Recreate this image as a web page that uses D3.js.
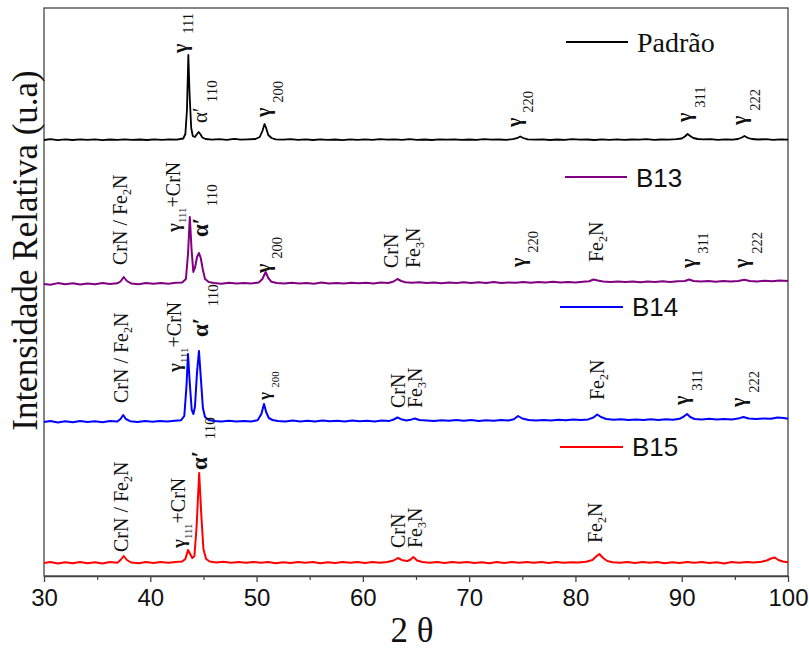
<!DOCTYPE html>
<html><head><meta charset="utf-8">
<script src="https://cdn.jsdelivr.net/npm/d3@7"></script>
<style>body{margin:0;background:#fff} svg{display:block}</style>
</head><body><svg id="c" width="809" height="649"></svg>
<script>
// ---------- DATA ----------
const seriesNames = ["Padrão","B13","B14","B15"];
const seriesColors = ["#000000","#800080","#0000ff","#ff0000"];
const seriesOffsets = [423,279,141,0];   // vertical stacking offsets (intensity units)
const xTicks = [30,40,50,60,70,80,90,100];
const xMinorTicks = [35,45,55,65,75,85,95];

const padrao = [[30,0],[30.6,0.8],[31.3,-0.2],[32,0.6],[32.7,0],[33.4,0.7],[34.1,0.1],[34.8,0.6],[35.5,-0.1],[36.2,0.5],[36.9,0.1],[37.6,0.7],[38.3,0.2],[39,0.5],[39.7,0],[40.4,0.6],[41.1,0.2],[41.8,0.7],[42.5,0.3],[43.1,1.5],[43.3,6],[43.45,30],[43.58,85],[43.7,45],[43.85,12],[44.0,4],[44.2,3],[44.4,6],[44.55,8],[44.7,6],[44.9,2.5],[45.2,1],[45.8,0.4],[46.5,0.8],[47.2,0.2],[47.9,1.2],[48.5,0.4],[49.2,0.7],[49.9,1],[50.3,3],[50.55,9],[50.75,16],[50.9,12],[51.1,5],[51.4,2],[51.8,0.6],[52.5,0.3],[53.2,0.9],[53.9,0.2],[54.6,0.6],[55.3,0],[56,0.7],[56.7,0.2],[57.4,0.5],[58.1,-0.1],[58.8,0.6],[59.5,0.2],[60.2,0.7],[60.9,0.1],[61.6,0.9],[62.3,0.3],[63,0.6],[63.7,0.1],[64.4,0.8],[65.1,0.2],[65.8,0.5],[66.5,0],[67.2,0.6],[67.9,0.3],[68.6,0.7],[69.3,0.1],[70,0.5],[70.7,0.2],[71.4,0.8],[72.1,0.3],[72.8,0.5],[73.5,0.2],[74.1,0.8],[74.5,1.8],[74.8,3.5],[75.1,2],[75.5,0.6],[76.2,0.3],[76.9,0.7],[77.6,0],[78.3,0.5],[79,0.2],[79.7,0.8],[80.4,0.3],[81.1,0.5],[81.8,0],[82.5,0.6],[83.2,0.2],[83.9,0.7],[84.6,0.1],[85.3,0.5],[86,0.3],[86.7,0.8],[87.4,0.2],[88.1,0.5],[88.8,0.4],[89.5,0.9],[90,1.5],[90.3,3.5],[90.55,6],[90.8,4],[91.1,2],[91.5,1],[92,0.6],[92.7,0.9],[93.4,0.2],[94.1,0.7],[94.8,0.4],[95.3,1],[95.65,2.5],[95.9,4],[96.2,2.2],[96.6,1],[97.2,0.5],[97.9,0.8],[98.6,0.2],[99.3,0.6],[100,0.3]];

const b13 = [[30,0],[30.6,-0.8],[31.3,0.9],[32,-0.3],[32.7,0.8],[33.4,-0.5],[34.1,0.6],[34.8,-0.2],[35.5,1],[36.2,0],[36.9,0.7],[37.2,2.5],[37.5,7],[37.8,3],[38.2,0.6],[38.9,-0.2],[39.6,1],[40.3,0.2],[41,0.9],[41.7,0.3],[42.4,1.2],[43,1.5],[43.35,5],[43.55,30],[43.72,67],[43.88,35],[44.05,12],[44.2,16],[44.4,27],[44.58,31],[44.75,26],[44.95,14],[45.15,5],[45.5,2],[46,1],[46.7,0.3],[47.4,1.2],[48.1,0.4],[48.8,1],[49.5,0.5],[50.2,1.5],[50.55,5],[50.85,12],[51.1,6],[51.4,2.2],[51.9,1],[52.6,0.4],[53.3,1.3],[54,0.5],[54.7,1.1],[55.4,0.3],[56.1,1.4],[56.8,0.6],[57.5,1],[58.2,0.4],[58.9,1.3],[59.6,0.7],[60.3,1.2],[61,0.5],[61.7,1.5],[62.4,1],[62.9,2.5],[63.25,5],[63.6,3],[64,1.8],[64.6,1.2],[65.3,1.8],[66,1],[66.7,1.6],[67.4,0.8],[68.1,1.5],[68.8,1],[69.5,1.8],[70.2,0.9],[70.9,1.7],[71.6,1],[72.3,1.9],[73,1.1],[73.7,1.6],[74.4,1.2],[75.1,2],[75.8,1.3],[76.5,2],[77.2,1.4],[77.9,2.2],[78.6,1.5],[79.3,2],[80,1.6],[80.7,2.3],[81.3,2.8],[81.7,4.5],[82.1,3.5],[82.6,2.5],[83.3,2],[84,2.6],[84.7,1.9],[85.4,2.5],[86.1,1.8],[86.8,2.6],[87.5,2],[88.2,2.7],[88.9,2.1],[89.6,2.8],[90.3,3],[90.7,4.5],[91.1,3],[91.8,2.4],[92.5,3],[93.2,2.3],[93.9,2.9],[94.6,2.5],[95.3,3.1],[95.9,4.2],[96.4,3],[97.1,2.6],[97.8,3.2],[98.5,2.7],[99.2,3.5],[100,3]];

const b14 = [[30,0],[30.6,1],[31.3,-0.5],[32,0.8],[32.7,-0.2],[33.4,1],[34.1,0],[34.8,0.7],[35.5,-0.3],[36.2,0.9],[36.9,0.5],[37.2,3],[37.45,7],[37.7,3],[38.1,0.8],[38.8,0],[39.5,1],[40.2,0.2],[40.9,0.9],[41.6,0.4],[42.3,1.2],[42.9,1.8],[43.2,6],[43.4,35],[43.55,68],[43.72,38],[43.9,12],[44.05,8],[44.2,15],[44.4,50],[44.58,71],[44.75,45],[44.95,14],[45.15,5],[45.5,2],[46,1],[46.7,0.4],[47.4,1.3],[48.1,0.5],[48.8,1.1],[49.5,0.6],[50.1,1.8],[50.45,8],[50.7,18],[50.9,10],[51.15,4],[51.5,2],[52,1],[52.7,0.5],[53.4,1.4],[54.1,0.6],[54.8,1.2],[55.5,0.4],[56.2,1.5],[56.9,0.7],[57.6,1.2],[58.3,0.5],[59,1.4],[59.7,0.8],[60.4,1.3],[61.1,0.6],[61.8,1.6],[62.5,1.1],[62.9,2.5],[63.25,4.5],[63.6,2.8],[64.1,1.6],[64.6,2.6],[64.9,3.5],[65.3,2],[66,1.5],[66.7,1],[67.4,1.8],[68.1,1.2],[68.8,2],[69.5,1.3],[70.2,1.9],[70.9,1.1],[71.6,1.8],[72.3,1.2],[73,2],[73.7,1.5],[74.2,2.8],[74.6,6],[75,3.5],[75.6,2],[76.3,1.4],[77,2],[77.7,1.5],[78.4,2.3],[79.1,1.7],[79.8,2.4],[80.5,1.9],[81.2,2.6],[81.7,4.5],[82.05,7.5],[82.4,5],[82.9,3],[83.6,2.2],[84.3,2.8],[85,2],[85.7,2.6],[86.4,2.1],[87.1,2.8],[87.8,2],[88.5,2.7],[89.2,2.3],[89.8,3.2],[90.2,5.5],[90.5,8],[90.8,5],[91.2,3],[91.9,2.6],[92.6,3.2],[93.3,2.4],[94,3],[94.7,2.6],[95.3,3.4],[95.8,5],[96.3,3.5],[97,3],[97.7,3.6],[98.4,3.2],[99,4.5],[99.6,4],[100,3.3]];

const b15 = [[30,0],[30.6,0.9],[31.3,-0.6],[32,0.7],[32.7,-0.3],[33.4,1],[34.1,-0.2],[34.8,0.8],[35.5,-0.4],[36.2,0.9],[36.9,0.3],[37.2,3],[37.5,7],[37.8,3],[38.2,0.5],[38.9,-0.3],[39.6,0.9],[40.3,0],[41,1],[41.7,0.2],[42.4,1.1],[43,1.5],[43.3,4],[43.55,13],[43.75,9],[43.95,5],[44.15,7],[44.35,35],[44.6,90],[44.8,48],[45,14],[45.25,4],[45.6,1.5],[46.2,0.5],[46.9,1.2],[47.6,0.2],[48.3,1],[49,0.3],[49.7,1.1],[50.4,0.2],[51.1,0.9],[51.8,-0.2],[52.5,0.8],[53.2,0],[53.9,1],[54.6,0.2],[55.3,0.9],[56,-0.3],[56.7,0.8],[57.4,0.1],[58.1,1],[58.8,0.2],[59.5,0.9],[60.2,0],[60.9,1],[61.6,0.3],[62.3,1],[62.9,2.5],[63.3,5],[63.7,2.8],[64.2,2],[64.5,3.5],[64.75,6],[65.1,2.5],[65.6,1],[66.3,0.3],[67,1],[67.7,0],[68.4,0.9],[69.1,0.2],[69.8,1],[70.5,0],[71.2,0.8],[71.9,-0.2],[72.6,0.9],[73.3,0.1],[74,1],[74.7,0.3],[75.4,1],[76.1,0.2],[76.8,0.9],[77.5,0],[78.2,1],[78.9,0.3],[79.6,0.8],[80.3,0.4],[81,1.2],[81.6,3],[81.95,6.5],[82.25,9],[82.6,5],[83,2],[83.5,0.8],[84.2,0.2],[84.9,1],[85.6,0],[86.3,0.9],[87,0.2],[87.7,1],[88.4,-0.2],[89.1,0.8],[89.8,0.1],[90.5,1],[91.2,0.3],[91.9,0.9],[92.6,0],[93.3,0.8],[94,-0.5],[94.7,0.9],[95.4,0.2],[96.1,1.1],[96.8,0.4],[97.5,1.3],[98,2.5],[98.4,4.5],[98.75,5.5],[99.1,3],[99.5,1.5],[100,0.8]];

const seriesData = [padrao, b13, b14, b15];

// peak annotations: series index, 2θ, level above series baseline, text parts [text, class, sub-shift]
const NB = "\u00a0";
const labels = [
  {s:0, t:43.43, v:87, p:[["γ","g"],[NB+NB,"g"],["111","gs",6]]},
  {s:0, t:45.34, v:17, p:[["α′","a"],[NB,"a"],["110","as",10]]},
  {s:0, t:51.23, v:23, p:[["γ","g"],[NB,"g"],["200","gs",13]]},
  {s:0, t:74.85, v:13, p:[["γ","g"],[NB,"g"],["220","gs",12]]},
  {s:0, t:90.84, v:18, p:[["γ","g"],[NB,"g"],["311","gs",14]]},
  {s:0, t:96.02, v:15, p:[["γ","g"],[NB,"g"],["222","gs",14]]},

  {s:1, t:37.81, v:19, p:[["CrN / Fe","m"],["2","ts",4],["N","m",0]]},
  {s:1, t:42.80, v:52, p:[["γ","gc"],["111","tiny",6],["+CrN","m",0]]},
  {s:1, t:45.43, v:47, p:[["α′","ab"],[NB+NB,"ab"],["110","as",9]]},
  {s:1, t:51.23, v:11, p:[["γ","g"],[NB,"g"],["200","gs",12]]},
  {s:1, t:63.30, v:16, p:[["CrN","m"]]},
  {s:1, t:65.37, v:16, p:[["Fe","m"],["3","ts",4],["N","m",0]]},
  {s:1, t:75.23, v:17, p:[["γ","g"],[NB,"g"],["220","gs",13]]},
  {s:1, t:82.59, v:22, p:[["Fe","m"],["2","ts",4],["N","m",0]]},
  {s:1, t:91.22, v:16, p:[["γ","g"],[NB,"g"],["311","gs",13]]},
  {s:1, t:96.21, v:16, p:[["γ","g"],[NB,"g"],["222","gs",14]]},

  {s:2, t:37.90, v:19, p:[["CrN / Fe","m"],["2","ts",4],["N","m",0]]},
  {s:2, t:42.89, v:50, p:[["γ","gc"],["111","tiny",7],["+CrN","m",0]]},
  {s:2, t:45.43, v:85, p:[["α′","ab"],[NB+NB,"ab"],["110","as",10]]},
  {s:2, t:51.26, v:22, p:[["γ","gm"],[NB,"gm"],["200","tiny2",9]]},
  {s:2, t:63.96, v:14, p:[["CrN","m"]]},
  {s:2, t:65.56, v:14, p:[["Fe","m"],["3","ts",4],["N","m",0]]},
  {s:2, t:82.69, v:22, p:[["Fe","m"],["2","ts",4],["N","m",0]]},
  {s:2, t:90.59, v:17, p:[["γ","g"],[NB,"g"],["311","gs",14]]},
  {s:2, t:95.95, v:15, p:[["γ","g"],[NB,"g"],["222","gs",14]]},

  {s:3, t:37.90, v:11, p:[["CrN / Fe","m"],["2","ts",4],["N","m",0]]},
  {s:3, t:43.27, v:15, p:[["γ","gc"],["111","tiny",7],["+CrN","m",0]]},
  {s:3, t:45.34, v:93, p:[["α′","ab"],[NB+NB,"ab"],["110","as",8]]},
  {s:3, t:63.96, v:15, p:[["CrN","m"]]},
  {s:3, t:65.56, v:15, p:[["Fe","m"],["3","ts",4],["N","m",0]]},
  {s:3, t:82.50, v:20, p:[["Fe","m"],["2","ts",4],["N","m",0]]}
];

// ---------- LAYOUT / STYLE ----------
const M = {left:44, right:788, top:8, bottom:576};
const SERIF = "'Liberation Serif','Times New Roman',Times,serif";
const SANS = "'Liberation Sans',Arial,Helvetica,sans-serif";
const cls = {
  m:[20,"normal"], ts:[12,"normal"], g:[20,"bold"], gs:[14.5,"normal"],
  gc:[19,"bold"], gm:[17,"bold"], tiny:[11,"normal"], tiny2:[11,"normal"],
  a:[21,"normal"], ab:[23,"bold"], as:[15,"normal"]
};
const legendPos = [
  {x1:566,x2:628,y:42,tx:637,ty:52,font:SERIF,size:28},
  {x1:565,x2:627,y:177,tx:636,ty:187,font:SANS,size:26},
  {x1:560,x2:623,y:307,tx:632,ty:316,font:SANS,size:26},
  {x1:560,x2:623,y:447,tx:632,ty:456,font:SANS,size:26}
];

const svg = d3.select("#c");
const x = d3.scaleLinear().domain([30,100]).range([M.left, M.right]);
const y = d3.scaleLinear().domain([-13,555]).range([M.bottom, M.top]);

// frame
svg.append("rect").attr("x",M.left).attr("y",M.top)
  .attr("width",M.right-M.left).attr("height",M.bottom-M.top)
  .attr("fill","none").attr("stroke","#444").attr("stroke-width",1.3);

// axis
const ax = svg.append("g").attr("transform",`translate(0,${M.bottom})`)
  .call(d3.axisBottom(x).tickValues(xTicks).tickSize(6).tickSizeOuter(0).tickPadding(7).tickFormat(d3.format("d")));
ax.select(".domain").attr("stroke","#444").attr("stroke-width",1.3);
ax.selectAll(".tick line").attr("stroke","#444").attr("stroke-width",1.3);
ax.selectAll(".tick text").attr("font-family",SANS).attr("font-size",24).attr("fill","#111");
const axm = svg.append("g").attr("transform",`translate(0,${M.bottom})`)
  .call(d3.axisBottom(x).tickValues(xMinorTicks).tickSize(4).tickSizeOuter(0).tickFormat(""));
axm.select(".domain").remove();
axm.selectAll(".tick line").attr("stroke","#444").attr("stroke-width",1.2);

// traces
const line = d3.line();
seriesData.forEach((data,i)=>{
  const off = seriesOffsets[i];
  svg.append("path")
    .attr("d", line.x(d=>x(d[0])).y(d=>y(d[1]+off))(data))
    .attr("fill","none").attr("stroke",seriesColors[i])
    .attr("stroke-width", i===0?1.8:2).attr("stroke-linejoin","round");
});

// annotations
labels.forEach(L=>{
  const tx = svg.append("text")
    .attr("transform",`translate(${x(L.t)},${y(L.v+seriesOffsets[L.s])}) rotate(-90)`)
    .attr("font-family",SERIF).attr("fill","#111");
  let cur = 0;
  L.p.forEach(([txt,c,sh])=>{
    sh = sh||0;
    tx.append("tspan").attr("font-size",cls[c][0]).attr("font-weight",cls[c][1])
      .attr("dy",sh-cur).text(txt);
    cur = sh;
  });
});

// legend
seriesNames.forEach((n,i)=>{
  const p = legendPos[i];
  svg.append("line").attr("x1",p.x1).attr("x2",p.x2).attr("y1",p.y).attr("y2",p.y)
    .attr("stroke",seriesColors[i]).attr("stroke-width",2);
  svg.append("text").attr("x",p.tx).attr("y",p.ty).attr("font-family",p.font)
    .attr("font-size",p.size).attr("fill","#111").text(n);
});

// axis titles
svg.append("text").attr("transform",`translate(37,250.5) rotate(-90)`)
  .attr("text-anchor","middle").attr("font-family",SERIF).attr("font-size",35)
  .attr("fill","#111").text("Intensidade Relativa (u.a)");
svg.append("text").attr("x",412).attr("y",642).attr("text-anchor","middle")
  .attr("font-family",SERIF).attr("font-size",35).attr("fill","#111").text("2\u00a0θ");
</script></body></html>
